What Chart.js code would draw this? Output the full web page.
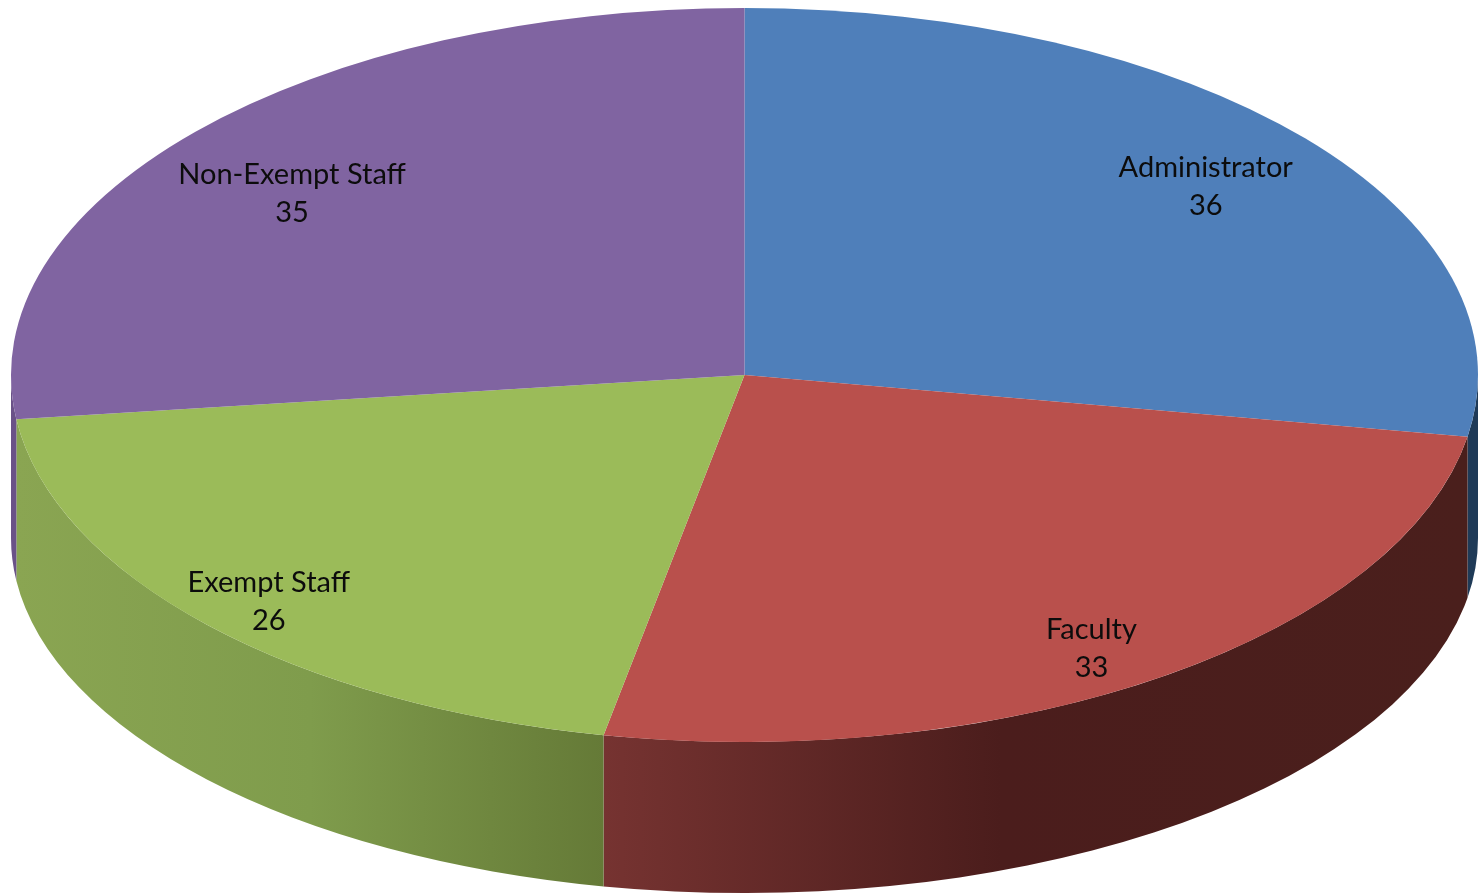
<!DOCTYPE html>
<html>
<head>
<meta charset="utf-8">
<style>
html,body{margin:0;padding:0;background:#fff;width:1484px;height:894px;overflow:hidden}
canvas{display:block;filter:blur(0.7px)}
</style>
<script src="https://cdn.jsdelivr.net/npm/chart.js@4"></script>
</head>
<body>
<canvas id="c" width="1484" height="894"></canvas>
<script>
const categories = ['Administrator', 'Faculty', 'Exempt Staff', 'Non-Exempt Staff'];
const values = [36, 33, 26, 35];
const topColors = ['#4f7fba', '#b9504c', '#9bbb59', '#8064a1'];
const wallStops = [
  [[0, '#1f3a57'], [1, '#1f3a57']],
  [[0, '#763331'], [0.46, '#4b1d1c'], [1, '#4a1f1c']],
  [[0, '#8aa552'], [0.5, '#7f9c4c'], [1, '#657a37']],
  [[0, '#6a5288'], [1, '#6a5288']]
];
const labelRadius = [0.815, 0.88, 0.893, 0.793];
const labelTurn = [0.65, 2.1, -0.5, -2.6];

const TOP = {x: 744.5, y: 375, rx: 733.5, ry: 367};
const BOTTOM = {x: 744.5, y: 538, rx: 733.5, ry: 355};
const LINE_GAP = 38;
const TEXT_DROP = 1.5;

const elevated = {
  id: 'elevated',
  beforeDatasetsDraw(chart) {
    const ctx = chart.ctx;
    const arcs = chart.getDatasetMeta(0).data;
    // side walls of the lower half, built from the arc angles of the library
    arcs.forEach((el, i) => {
      const a1 = Math.max(el.startAngle, 0);
      const a2 = Math.min(el.endAngle, Math.PI);
      if (a2 <= a1) return;
      const xa = TOP.x + TOP.rx * Math.cos(a1), xb = TOP.x + TOP.rx * Math.cos(a2);
      const lg = ctx.createLinearGradient(Math.min(xa, xb), 0, Math.max(xa, xb), 0);
      wallStops[i].forEach(s => lg.addColorStop(s[0], s[1]));
      ctx.save();
      ctx.beginPath();
      ctx.ellipse(TOP.x, TOP.y, TOP.rx, TOP.ry, 0, a1, a2);
      ctx.ellipse(BOTTOM.x, BOTTOM.y, BOTTOM.rx, BOTTOM.ry, 0, a2, a1, true);
      ctx.closePath();
      ctx.fillStyle = lg;
      ctx.fill();
      ctx.restore();
    });
    // squash the library's round pie onto the top ellipse
    const el0 = arcs[0];
    const r = el0.outerRadius;
    ctx.save();
    ctx.translate(TOP.x, TOP.y);
    ctx.scale(TOP.rx / r, TOP.ry / r);
    ctx.translate(-el0.x, -el0.y);
  },
  afterDatasetsDraw(chart) {
    const ctx = chart.ctx;
    ctx.restore();
    const arcs = chart.getDatasetMeta(0).data;
    ctx.save();
    ctx.fillStyle = '#0c0c0c';
    ctx.font = '29px Lato, "Open Sans", sans-serif';
    ctx.textAlign = 'center';
    ctx.textBaseline = 'middle';
    arcs.forEach((el, i) => {
      const mid = (el.startAngle + el.endAngle) / 2 + labelTurn[i] * Math.PI / 180;
      const x = TOP.x + TOP.rx * labelRadius[i] * Math.cos(mid);
      const y = TOP.y + TOP.ry * labelRadius[i] * Math.sin(mid) + TEXT_DROP;
      ctx.fillText(categories[i], x, y - LINE_GAP / 2);
      ctx.fillText(String(values[i]), x, y + LINE_GAP / 2);
    });
    ctx.restore();
  }
};

new Chart(document.getElementById('c'), {
  type: 'pie',
  data: {
    labels: categories,
    datasets: [{
      data: values,
      backgroundColor: topColors,
      borderWidth: 0,
      clip: false
    }]
  },
  options: {
    responsive: false,
    animation: false,
    layout: {padding: 0},
    plugins: {legend: {display: false}, tooltip: {enabled: false}}
  },
  plugins: [elevated]
});
</script>
</body>
</html>
